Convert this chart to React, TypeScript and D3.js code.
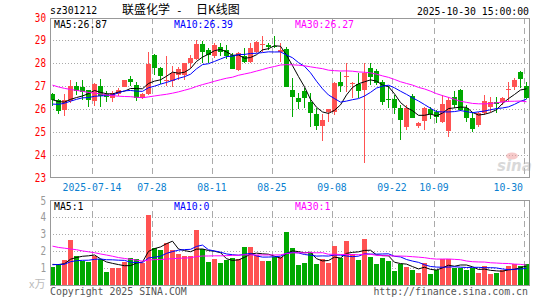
import React from 'react';
import * as d3 from 'd3';

// trading days shown (index 0..79)
const dates = [
  '07-03', '07-04', '07-07', '07-08', '07-09', '07-10', '07-11', '07-14', '07-15', '07-16',
  '07-17', '07-18', '07-21', '07-22', '07-23', '07-24', '07-25', '07-28', '07-29', '07-30',
  '07-31', '08-01', '08-04', '08-05', '08-06', '08-07', '08-08', '08-11', '08-12', '08-13',
  '08-14', '08-15', '08-18', '08-19', '08-20', '08-21', '08-22', '08-25', '08-26', '08-27',
  '08-28', '08-29', '09-01', '09-02', '09-03', '09-04', '09-05', '09-08', '09-09', '09-10',
  '09-11', '09-12', '09-15', '09-16', '09-17', '09-18', '09-19', '09-22', '09-23', '09-24',
  '09-25', '09-26', '09-29', '09-30', '10-09', '10-10', '10-13', '10-14', '10-15', '10-16',
  '10-17', '10-20', '10-21', '10-22', '10-23', '10-24', '10-27', '10-28', '10-29', '10-30',
];

const tickDates = ['07-14', '07-28', '08-11', '08-25', '09-08', '09-22', '10-09', '10-30'];
const tickLabels = ['2025-07-14', '07-28', '08-11', '08-25', '09-08', '09-22', '10-09', '10-30'];

const open = [
  26.65, 26.41, 25.97, 26.35, 27.0, 26.95, 26.83, 26.35, 27.0, 26.65,
  26.5, 26.66, 26.96, 27.32, 27.04, 26.48, 26.66, 28.37, 27.78, 27.22,
  27.24, 27.47, 27.47, 28.02, 28.2, 28.85, 28.56, 28.32, 28.71, 28.56,
  28.37, 27.71, 28.3, 28.07, 28.49, 28.8, 28.78, 28.76, 28.5, 28.63,
  26.85, 26.5, 26.78, 26.31, 25.79, 25.25, 25.87, 25.87, 27.19, 27.38,
  27.1, 27.09, 26.82, 27.81, 27.66, 27.19, 26.45, 26.43, 26.05, 25.22,
  26.58, 25.27, 25.49, 26.0, 25.88, 25.45, 25.05, 26.54, 26.83, 26.03,
  25.59, 25.3, 25.81, 26.1, 26.32, 26.32, 26.85, 26.95, 27.61, 27.0,
];
const high = [
  26.68, 26.43, 26.65, 27.27, 27.19, 27.26, 26.85, 27.12, 27.3, 26.8,
  26.8, 26.9, 27.28, 27.42, 27.2, 26.7, 28.47, 28.4, 27.82, 28.3,
  27.9, 27.85, 28.02, 28.35, 29.02, 28.96, 28.66, 28.88, 28.9, 28.78,
  28.44, 28.51, 28.66, 28.88, 28.96, 29.18, 28.88, 29.18, 28.88, 28.7,
  27.34, 26.71, 26.9, 26.71, 26.06, 25.79, 25.99, 27.19, 27.63, 28.0,
  27.19, 27.56, 28.0, 28.0, 27.75, 27.26, 27.0, 26.6, 26.16, 26.16,
  26.65, 25.45, 26.07, 26.1, 25.95, 26.61, 26.54, 26.8, 26.86, 26.17,
  25.88, 25.88, 26.61, 26.54, 26.54, 26.54, 27.2, 27.34, 27.64, 27.18,
];
const low = [
  26.15, 25.8, 25.7, 26.27, 26.6, 26.39, 26.1, 26.15, 26.1, 26.3,
  26.3, 26.55, 26.95, 27.02, 26.35, 26.45, 26.6, 27.5, 27.1, 27.0,
  26.97, 27.27, 27.27, 27.8, 28.15, 28.0, 28.0, 28.22, 28.3, 28.18,
  27.73, 27.68, 28.0, 28.0, 28.44, 28.5, 28.59, 28.66, 28.07, 26.94,
  25.65, 26.01, 26.06, 25.21, 25.1, 24.59, 25.43, 25.75, 26.75, 26.75,
  26.46, 26.46, 23.65, 27.04, 27.04, 26.16, 26.05, 25.8, 24.62, 25.1,
  25.6, 25.15, 25.08, 25.55, 25.4, 25.37, 24.76, 26.03, 25.89, 25.44,
  25.0, 25.22, 25.74, 25.88, 25.81, 26.18, 26.32, 26.85, 26.93, 26.42,
];
const close = [
  26.41, 25.9, 26.38, 27.0, 26.8, 26.76, 26.4, 27.08, 26.57, 26.52,
  26.7, 26.82, 27.27, 27.16, 26.5, 26.66, 27.98, 27.78, 27.45, 27.28,
  27.56, 27.74, 28.0, 28.24, 28.85, 28.51, 28.37, 28.78, 28.51, 28.32,
  27.75, 28.44, 28.07, 28.66, 28.93, 28.82, 28.7, 28.71, 28.56, 26.97,
  26.53, 26.31, 26.46, 25.82, 25.25, 25.5, 25.99, 27.15, 27.0, 27.42,
  27.14, 26.79, 27.59, 27.41, 27.15, 26.3, 26.42, 26.02, 25.51, 26.05,
  25.62, 25.4, 26.03, 25.78, 25.66, 26.22, 26.39, 26.18, 25.96, 25.59,
  25.12, 25.81, 26.36, 26.32, 26.22, 26.47, 26.88, 27.27, 27.3, 26.49,
];
// volume, in the chart's axis unit
const volume = [
  1.07, 1.23, 1.47, 2.66, 1.71, 1.43, 1.37, 1.71, 1.53, 0.78,
  1.01, 1.01, 1.37, 1.57, 1.53, 1.33, 4.14, 2.2, 2.06, 2.5,
  2.06, 1.83, 1.73, 1.73, 3.25, 2.12, 1.37, 1.51, 1.31, 1.47,
  1.61, 1.53, 2.26, 2.26, 1.77, 1.41, 1.41, 1.67, 1.67, 3.15,
  2.2, 1.18, 1.31, 1.87, 1.23, 1.53, 1.31, 2.3, 1.61, 2.62,
  1.81, 1.47, 2.72, 1.67, 1.23, 1.61, 1.41, 0.82, 1.27, 1.07,
  0.88, 0.72, 1.31, 0.64, 0.88, 1.51, 1.51, 1.01, 1.01, 0.88,
  0.98, 0.72, 1.12, 0.64, 0.72, 0.88, 1.12, 1.27, 1.12, 1.27,
];

// sessions before the window (estimated), needed for the moving averages
const priorClose = [
  28.3, 28.2, 28.4, 28.1, 27.9, 28.0, 27.8, 27.7, 27.9, 27.6, 27.5, 27.7, 27.4, 27.3, 27.2,
  26.9, 26.6, 26.3, 26.2, 26.1, 26.0, 25.9, 26.1, 26.0, 26.1, 26.3, 26.5, 26.4, 26.4,
];
const priorVolume = [
  3.5, 2.8, 4.1, 3.0, 3.6, 2.9, 3.3, 3.8, 2.7, 3.1, 3.4, 2.9, 3.2, 3.0, 3.1,
  2.0, 1.6, 1.8, 1.7, 1.47, 1.1, 1.3, 1.2, 1.1, 1.2, 1.3, 1.2, 1.33, 1.2,
];

const priceTicks = [24, 25, 26, 27, 28, 29];
const priceLabels = [23, 24, 25, 26, 27, 28, 29, 30];
const volTicks = [1, 2, 3, 4];
const volLabels = [1, 2, 3, 4, 5];

const maPeriods = [5, 10, 30];
const maColors = ['#000000', '#0000ff', '#ff00ff'];
const priceLegend = ['MA5:26.87', 'MA10:26.39', 'MA30:26.27'];
const volLegend = ['MA5:1', 'MA10:0', 'MA30:1'];
const legendX = [54, 174, 295];

const RED = '#ff5252';
const GREEN = '#00a800';
const GRID = '#aaaaaa';
const FRAME = '#999999';
const MONO = 'DejaVu Sans Mono, Liberation Mono, monospace';
const CJK = 'Noto Sans CJK SC, sans-serif';

function movingAvg(series: number[], prior: number[], n: number) {
  const all = prior.concat(series);
  return series.map((_, i) => {
    const end = i + prior.length;
    return d3.mean(all.slice(end - n + 1, end + 1)) as number;
  });
}

const Mono = ({ x, y, s, fill, anchor = 'start', size = 11, cw = 5.9 }: any) => (
  <text x={x} y={y} fill={fill} fontFamily={MONO} fontSize={size} textAnchor={anchor}
    textLength={s.length * cw} lengthAdjust="spacingAndGlyphs">{s}</text>
);

export default function App() {
  const W = 545;
  const H = 300;
  const L = 50;
  const R = 529.5;

  const x = d3.scaleLinear().domain([0, 80]).range([50, 530]);
  const yP = d3.scaleLinear().domain([23, 30]).range([177.5, 17.5]);
  const yV = d3.scaleLinear().domain([0, 5]).range([285, 200.5]);

  const cx = (i: number) => x(i) + 2.5;
  const up = (i: number) => close[i] >= open[i];

  const priceMA = maPeriods.map((n) => movingAvg(close, priorClose, n));
  const volMA = maPeriods.map((n) => movingAvg(volume, priorVolume, n));
  const lineP = d3.line<number>().x((_, i) => cx(i)).y((d) => yP(d));
  const lineV = d3.line<number>().x((_, i) => cx(i)).y((d) => yV(d));

  const tickIdx = tickDates.map((d) => dates.indexOf(d));

  return (
    <svg width={W} height={H} style={{ position: 'absolute', left: 0, top: 0, background: '#fff' }}>
      {/* header */}
      <Mono x={50} y={14} s="sz301212" fill="#000" />
      <text x={122} y={14} fontFamily={CJK} fontSize={12} fill="#000">联盛化学</text>
      <text x={176} y={14} fontFamily={MONO} fontSize={11} fill="#000">-</text>
      <text x={196} y={14} fontFamily={CJK} fontSize={12} fill="#000">日K线图</text>
      <Mono x={529} y={15} s="2025-10-30 15:00:00" fill="#000" anchor="end" />

      {/* grid */}
      <g shapeRendering="crispEdges">
        {priceTicks.map((t) => (
          <line key={t} x1={L} x2={R} y1={Math.round(yP(t)) + 0.5} y2={Math.round(yP(t)) + 0.5}
            stroke={GRID} strokeDasharray="1,2" />
        ))}
        {volTicks.map((t) => (
          <line key={t} x1={L} x2={R} y1={Math.round(yV(t)) + 0.5} y2={Math.round(yV(t)) + 0.5}
            stroke={GRID} strokeDasharray="1,2" />
        ))}
        {tickIdx.map((i) => (
          <g key={i}>
            <line x1={x(i) + 0.5} x2={x(i) + 0.5} y1={18} y2={177} stroke={GRID} strokeDasharray="6,4" />
            <line x1={x(i) + 0.5} x2={x(i) + 0.5} y1={201} y2={285} stroke={GRID} strokeDasharray="6,4" />
          </g>
        ))}
      </g>

      {/* axis labels */}
      {priceLabels.map((t) => (
        <Mono key={t} x={46} y={yP(t) + 4} s={String(t)} fill="#ff0000" anchor="end" size={12} cw={5.6} />
      ))}
      {volLabels.map((t) => (
        <Mono key={t} x={46} y={yV(t) + 4} s={String(t)} fill="#999" anchor="end" size={12} cw={5.6} />
      ))}
      <text x={29} y={288} fontFamily={CJK} fontSize={11} fill="#bbb">x万</text>

      {tickIdx.map((i, j) => {
        const last = j === tickIdx.length - 1;
        return (
          <Mono key={i} x={last ? 523 : x(i)} y={190.5} s={tickLabels[j]} fill="#0a7fd0"
            anchor={last ? 'end' : 'middle'} />
        );
      })}

      {/* watermark */}
      <g opacity={0.55}>
        <ellipse cx={512} cy={156} rx={6} ry={3.5} fill="#f0a0a0" />
        <text x={497} y={171} fontFamily="DejaVu Sans, sans-serif" fontStyle="italic" fontWeight="bold"
          fontSize={15} fill="#bbbbbb">sina</text>
      </g>

      {/* candles + volume bars */}
      <g shapeRendering="crispEdges">
        {close.map((c, i) => {
          const col = up(i) ? RED : GREEN;
          const top = yP(Math.max(open[i], c));
          const bot = yP(Math.min(open[i], c));
          return (
            <g key={i}>
              <line x1={cx(i)} x2={cx(i)} y1={yP(high[i])} y2={yP(low[i])} stroke={col} />
              <rect x={x(i)} y={top} width={5} height={Math.max(1, bot - top)} fill={col} />
            </g>
          );
        })}
        {volume.map((v, i) => (
          <rect key={i} x={x(i)} y={yV(v)} width={5} height={yV(0) - yV(v)} fill={up(i) ? RED : GREEN} />
        ))}
      </g>

      {/* moving averages */}
      {priceMA.map((m, j) => (
        <path key={j} d={lineP(m) as string} fill="none" stroke={maColors[j]} strokeWidth={1} />
      ))}
      {volMA.map((m, j) => (
        <path key={j} d={lineV(m) as string} fill="none" stroke={maColors[j]} strokeWidth={1} />
      ))}

      {/* frames */}
      <g shapeRendering="crispEdges" fill="none" stroke={FRAME}>
        <polyline points={`${L + 0.5},18 ${L + 0.5},177.5 ${R},177.5 ${R},18`} />
        <line x1={L} x2={R} y1={18.5} y2={18.5} />
        <polyline points={`${L + 0.5},201 ${L + 0.5},285.5 ${R},285.5 ${R},201`} />
        <line x1={L} x2={R} y1={200.5} y2={200.5} />
      </g>

      {/* legends */}
      {priceLegend.map((s, j) => (
        <Mono key={s} x={legendX[j]} y={27.5} s={s} fill={maColors[j]} />
      ))}
      {volLegend.map((s, j) => (
        <Mono key={s} x={legendX[j]} y={210} s={s} fill={maColors[j]} />
      ))}

      {/* footer */}
      <text x={50} y={295} fill="#555" fontFamily={MONO} fontSize={9.9}>Copyright 2025 SINA.COM</text>
      <text x={528} y={295} fill="#555" fontFamily={MONO} fontSize={9.9} textAnchor="end">http://finance.sina.com.cn</text>
    </svg>
  );
}
